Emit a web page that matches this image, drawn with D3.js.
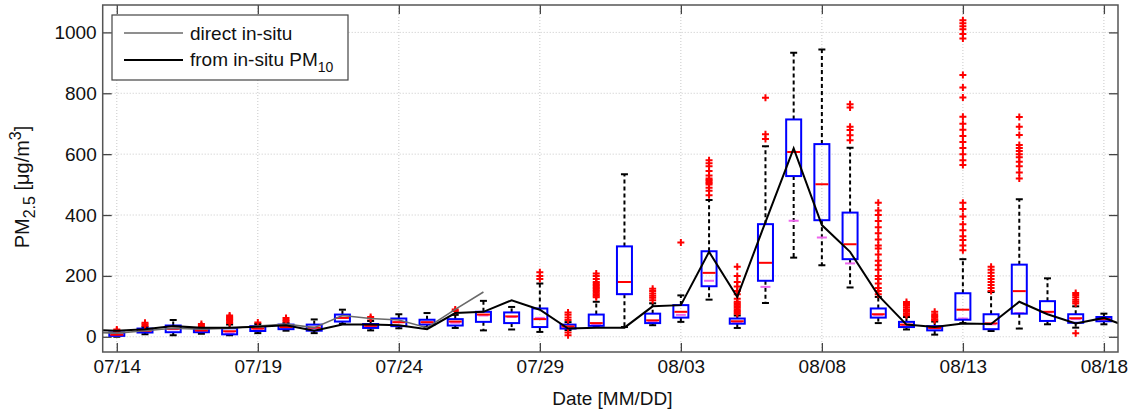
<!DOCTYPE html>
<html>
<head>
<meta charset="utf-8">
<script src="https://cdn.jsdelivr.net/npm/d3@7"></script>
<style>
  html, body { margin: 0; padding: 0; background: #fff; }
  svg { display: block; font-family: "Liberation Sans", Arial, Helvetica, sans-serif; }
</style>
</head>
<body>
<svg id="chart" width="1139" height="415"></svg>
<script>
// Daily PM2.5 box statistics, 07/14 .. 08/18
const days = ["07/14","07/15","07/16","07/17","07/18","07/19","07/20","07/21","07/22","07/23",
  "07/24","07/25","07/26","07/27","07/28","07/29","07/30","07/31","08/01","08/02",
  "08/03","08/04","08/05","08/06","08/07","08/08","08/09","08/10","08/11","08/12",
  "08/13","08/14","08/15","08/16","08/17","08/18"];

const whiskerLow  = [0, 8, 5, 10, 5, 12, 20, 12, 43, 21, 28, 32, 29, 21, 24, 16, 22, 32, 32, 38,
  49, 122, 29, 111, 260, 235, 162, 45, 24, 7, 45, 19, 27, 41, 30, 41];
const q1          = [3, 14, 15, 15, 8, 19, 25, 20, 50, 29, 35, 40, 37, 49, 45, 32, 27, 36, 140, 45,
  63, 166, 43, 184, 528, 383, 255, 63, 32, 21, 56, 25, 76, 52, 46, 51];
const median      = [7, 20, 26, 21, 18, 27, 32, 30, 62, 36, 48, 48, 50, 73, 67, 58, 34, 45, 180, 54,
  82, 210, 51, 243, 607, 501, 304, 74, 40, 29, 89, 44, 150, 82, 61, 58];
const q3          = [14, 27, 37, 27, 28, 35, 40, 40, 73, 42, 60, 56, 58, 82, 80, 93, 40, 73, 297, 76,
  104, 281, 60, 370, 714, 633, 408, 93, 49, 35, 143, 74, 237, 117, 74, 65];
const whiskerHigh = [18, 32, 55, 30, 40, 42, 45, 57, 89, 52, 74, 78, 72, 118, 98, 175, 48, 115, 534, 110,
  136, 449, 70, 626, 933, 944, 621, 131, 65, 50, 255, 147, 452, 192, 100, 76];
// second reference level drawn in each box
const referenceMark = [3, 18, 25, 18, 12, 25, 30, 28, 62, 33, 48, 47, 46, 70, 65, 62, 30, 40, 140, 50,
  72, 184, 45, 164, 381, 326, 241, 72, 38, 27, 60, 41, 78, 80, 58, 57];
const outliers = [
  [20, 24], [36, 41, 46], [], [33, 37, 42], [45, 50, 55, 58, 62, 66, 70], [47], [50, 55, 62], [], [],
  [60, 65], [], [], [85, 90], [], [], [190, 200, 212], [5, 14, 55, 63, 72, 80],
  [130, 135, 140, 145, 150, 155, 160, 165, 170, 175, 180, 190, 200, 208], [],
  [120, 128, 135, 142, 150, 158], [310],
  [465, 480, 490, 500, 505, 510, 515, 520, 530, 545, 560, 570, 580],
  [76, 80, 85, 90, 95, 100, 105, 110, 115, 125, 140, 150, 165, 180, 200, 230],
  [650, 665, 785], [], [], [646, 662, 679, 690, 753, 764],
  [140, 150, 160, 175, 190, 200, 220, 235, 250, 270, 290, 300, 320, 340, 360, 380, 400, 415, 440],
  [71, 76, 82, 88, 95, 102, 108, 114], [54, 58, 63, 68, 74, 82],
  [284, 300, 318, 330, 350, 370, 395, 420, 440, 564, 580, 600, 620, 640, 660, 680, 700, 723,
   786, 819, 860, 980, 995, 1010, 1020, 1030, 1040],
  [150, 160, 170, 180, 190, 200, 210, 220, 230],
  [520, 540, 560, 575, 590, 600, 610, 620, 630, 663, 690, 722], [],
  [12, 109, 115, 122, 130, 137, 144], []
];

// Daily mean lines (first and last entries lie just outside the axes)
const lineDays = ["07/13"].concat(days, ["08/19"]);
const fromPM10 = [22, 20, 25, 35, 30, 30, 33, 38, 20, 40, 40, 38, 25, 78, 82, 120, 89, 27, 30, 30, 100,
  104, 279, 131, 377, 619, 367, 279, 136, 40, 32, 44, 42, 115, 74, 44, 62, 28];
const directDays = ["07/13"].concat(days.slice(0, 14));
const direct = [15, 12, 20, 28, 25, 28, 35, 42, 30, 70, 60, 55, 30, 90, 147];

const yTicks = [0, 200, 400, 600, 800, 1000];
const xTickLabels = ["07/14","07/19","07/24","07/29","08/03","08/08","08/13","08/18"];

const parse = s => { const [m, d] = s.split("/").map(Number); return new Date(Date.UTC(2013, m - 1, d)); };
const halfDay = 12 * 3600 * 1000;

const svg = d3.select("#chart");
const pLeft = 102.7, pRight = 1118, pTop = 5, pBottom = 352;
const fontSize = 19;

const x = d3.scaleUtc()
  .domain([new Date(+parse("07/14") - halfDay), new Date(+parse("08/18") + halfDay)])
  .range([pLeft, pRight]);
const y = d3.scaleLinear().domain([-50, 1090]).range([pBottom, pTop]);

svg.append("defs").append("clipPath").attr("id", "plot-clip")
  .append("rect").attr("x", pLeft).attr("y", pTop).attr("width", pRight - pLeft).attr("height", pBottom - pTop);

// grid
const grid = svg.append("g");
grid.selectAll("line.gy").data(yTicks).join("line")
  .attr("x1", pLeft).attr("x2", pRight).attr("y1", d => y(d)).attr("y2", d => y(d))
  .attr("stroke", "#c8c8c8").attr("stroke-width", 1).attr("stroke-dasharray", "1,2");
grid.selectAll("line.gx").data(xTickLabels).join("line")
  .attr("x1", d => x(parse(d))).attr("x2", d => x(parse(d))).attr("y1", pTop).attr("y2", pBottom)
  .attr("stroke", "#c8c8c8").attr("stroke-width", 1).attr("stroke-dasharray", "1,2");

// axes (ticks pointing inward on all four sides)
const fmt = d3.utcFormat("%m/%d");
const axFont = g => g.selectAll("text").attr("font-size", fontSize).attr("fill", "#111")
  .attr("font-family", "Liberation Sans, Arial, sans-serif");
const xb = svg.append("g").attr("transform", `translate(0,${pBottom})`)
  .call(d3.axisBottom(x).tickValues(xTickLabels.map(parse)).tickFormat(fmt).tickSizeInner(-9).tickSizeOuter(0).tickPadding(8));
axFont(xb);
const xt = svg.append("g").attr("transform", `translate(0,${pTop})`)
  .call(d3.axisTop(x).tickValues(xTickLabels.map(parse)).tickFormat("").tickSizeInner(-9).tickSizeOuter(0));
const yl = svg.append("g").attr("transform", `translate(${pLeft},0)`)
  .call(d3.axisLeft(y).tickValues(yTicks).tickFormat(d3.format("d")).tickSizeInner(-9).tickSizeOuter(0).tickPadding(6));
axFont(yl);
const yr = svg.append("g").attr("transform", `translate(${pRight},0)`)
  .call(d3.axisRight(y).tickValues(yTicks).tickFormat("").tickSizeInner(-9).tickSizeOuter(0));
[xb, xt, yl, yr].forEach(g => {
  g.select(".domain").remove();
  g.selectAll(".tick line").attr("stroke", "#444").attr("stroke-width", 1.3);
});

// boxes
const plot = svg.append("g").attr("clip-path", "url(#plot-clip)");
const boxW = 15, capW = 7, refW = 10;
const stats = days.map((d, i) => ({
  t: parse(d), lo: whiskerLow[i], q1: q1[i], med: median[i], q3: q3[i], hi: whiskerHigh[i],
  ref: referenceMark[i], out: outliers[i]
}));
const bx = plot.selectAll("g.box").data(stats).join("g").attr("class", "box");
bx.append("line").attr("x1", d => x(d.t)).attr("x2", d => x(d.t))
  .attr("y1", d => y(d.q3)).attr("y2", d => y(d.hi))
  .attr("stroke", "#000").attr("stroke-width", 2).attr("stroke-dasharray", "4,3");
bx.append("line").attr("x1", d => x(d.t)).attr("x2", d => x(d.t))
  .attr("y1", d => y(d.q1)).attr("y2", d => y(d.lo))
  .attr("stroke", "#000").attr("stroke-width", 2).attr("stroke-dasharray", "4,3");
["hi", "lo"].forEach(k => {
  bx.append("line").attr("x1", d => x(d.t) - capW / 2).attr("x2", d => x(d.t) + capW / 2)
    .attr("y1", d => y(d[k])).attr("y2", d => y(d[k])).attr("stroke", "#000").attr("stroke-width", 2);
});
bx.append("line").attr("x1", d => x(d.t) - refW / 2).attr("x2", d => x(d.t) + refW / 2)
  .attr("y1", d => y(d.ref)).attr("y2", d => y(d.ref)).attr("stroke", "#ee66ee").attr("stroke-width", 2);
bx.append("rect").attr("x", d => x(d.t) - boxW / 2).attr("width", boxW)
  .attr("y", d => y(d.q3)).attr("height", d => Math.max(1, y(d.q1) - y(d.q3)))
  .attr("fill", "none").attr("stroke", "#0000ff").attr("stroke-width", 2);
bx.append("line").attr("x1", d => x(d.t) - boxW / 2 + 1).attr("x2", d => x(d.t) + boxW / 2 - 1)
  .attr("y1", d => y(d.med)).attr("y2", d => y(d.med)).attr("stroke", "#ff0000").attr("stroke-width", 2);
bx.each(function (d) {
  d3.select(this).selectAll("path.out").data(d.out).join("path")
    .attr("transform", v => `translate(${x(d.t)},${y(v)})`)
    .attr("d", "M-3.5,0H3.5M0,-3.5V3.5")
    .attr("stroke", "#ff0000").attr("stroke-width", 2).attr("fill", "none");
});

// daily lines
const line = d3.line().x(d => x(d.t)).y(d => y(d.v));
plot.append("path")
  .datum(directDays.map((d, i) => ({ t: parse(d), v: direct[i] })))
  .attr("d", line).attr("fill", "none").attr("stroke", "#6a6a6a").attr("stroke-width", 1.6);
plot.append("path")
  .datum(lineDays.map((d, i) => ({ t: parse(d), v: fromPM10[i] })))
  .attr("d", line).attr("fill", "none").attr("stroke", "#000").attr("stroke-width", 2);

// frame
svg.append("rect").attr("x", pLeft).attr("y", pTop).attr("width", pRight - pLeft).attr("height", pBottom - pTop)
  .attr("fill", "none").attr("stroke", "#555").attr("stroke-width", 1.5);

// axis titles
svg.append("text").attr("x", (pLeft + pRight) / 2 + 2).attr("y", 405)
  .attr("text-anchor", "middle").attr("font-size", fontSize).attr("fill", "#111").text("Date [MM/DD]");
const yt = svg.append("text").attr("transform", "translate(29,187) rotate(-90)")
  .attr("text-anchor", "middle").attr("font-size", 20).attr("fill", "#111");
yt.append("tspan").text("PM");
yt.append("tspan").attr("font-size", 16).attr("dy", 6).text("2.5");
yt.append("tspan").attr("dy", -6).text(" [\u03bcg/m");
yt.append("tspan").attr("font-size", 16).attr("dy", -8).text("3");
yt.append("tspan").attr("dy", 8).text("]");

// legend
const lg = svg.append("g");
lg.append("rect").attr("x", 112).attr("y", 15).attr("width", 236).attr("height", 65)
  .attr("fill", "#fff").attr("stroke", "#444").attr("stroke-width", 1.2);
const legendItems = [
  { y: 33, color: "#6a6a6a", w: 1.6 },
  { y: 60, color: "#000", w: 2 }
];
lg.selectAll("line.lg").data(legendItems).join("line")
  .attr("x1", 124).attr("x2", 183).attr("y1", d => d.y).attr("y2", d => d.y)
  .attr("stroke", d => d.color).attr("stroke-width", d => d.w);
lg.append("text").attr("x", 190).attr("y", 39.5).attr("font-size", fontSize).attr("fill", "#111").text("direct in-situ");
const l2 = lg.append("text").attr("x", 190).attr("y", 66).attr("font-size", fontSize).attr("fill", "#111");
l2.append("tspan").text("from in-situ PM");
l2.append("tspan").attr("font-size", 14).attr("dy", 6).text("10");
</script>
</body>
</html>
